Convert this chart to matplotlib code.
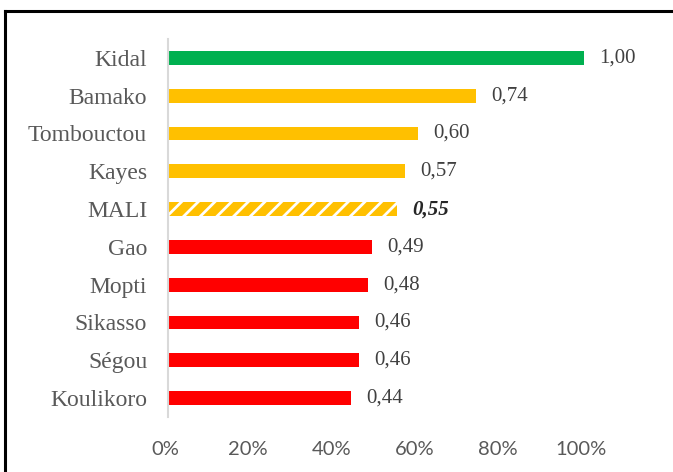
import matplotlib.pyplot as plt
import matplotlib.transforms as mtransforms
from matplotlib.lines import Line2D

# Data (top to bottom)
regions = ["Kidal", "Bamako", "Tombouctou", "Kayes", "MALI",
           "Gao", "Mopti", "Sikasso", "Ségou", "Koulikoro"]
values = [1.00, 0.74, 0.60, 0.57, 0.55, 0.49, 0.48, 0.46, 0.46, 0.44]
value_labels = ["1,00", "0,74", "0,60", "0,57", "0,55",
                "0,49", "0,48", "0,46", "0,46", "0,44"]
colors = ["#00B050", "#FFC000", "#FFC000", "#FFC000", "#FFC000",
          "#FF0000", "#FF0000", "#FF0000", "#FF0000", "#FF0000"]
ticks = [0, 0.2, 0.4, 0.6, 0.8, 1.0]
tick_labels = ["0%", "20%", "40%", "60%", "80%", "100%"]

plt.rcParams['hatch.linewidth'] = 2.0

fig = plt.figure(figsize=(6.73, 4.72), dpi=100)
ax = fig.add_axes([168 / 673, 1 - 417 / 472, (584 - 168) / 673, (417 - 39) / 472])

ypos = list(range(len(regions)))[::-1]
for y, v, c, name in zip(ypos, values, colors, regions):
    if name == "MALI":
        ax.barh(y, v, height=0.37, color=c, edgecolor="white", hatch="//", linewidth=0)
    else:
        ax.barh(y, v, height=0.37, color=c, linewidth=0)

for y, v, lab, name in zip(ypos, values, value_labels, regions):
    bold = name == "MALI"
    ax.annotate(lab, (v, y), xytext=(11, 0), textcoords="offset points",
                va="center", ha="left", family="Liberation Serif", fontsize=15,
                color="#262626" if bold else "#404040",
                fontweight="bold" if bold else "normal",
                fontstyle="italic" if bold else "normal")

ax.set_xlim(0, 1.0)
ax.set_ylim(-0.5, len(regions) - 0.5)
ax.set_yticks(ypos)
ax.set_yticklabels(regions)
ax.set_xticks(ticks)
ax.set_xticklabels(tick_labels)
ax.tick_params(axis="y", length=0, pad=15)
ax.tick_params(axis="x", length=0, pad=17)
for t in ax.get_yticklabels():
    t.set_fontfamily("Liberation Serif")
    t.set_fontsize(17)
    t.set_color("#595959")
shift = mtransforms.ScaledTranslation(-3 / 100, 0, fig.dpi_scale_trans)
for t in ax.get_xticklabels():
    t.set_fontfamily("Lato")
    t.set_fontsize(14.5)
    t.set_color("#595959")
    t.set_transform(t.get_transform() + shift)

for side in ["top", "right", "bottom"]:
    ax.spines[side].set_visible(False)
ax.spines["left"].set_color("#D9D9D9")
ax.spines["left"].set_linewidth(1.5)

# outer frame (top and left edges visible)
fig.add_artist(Line2D([5 / 673, 1.0], [1 - 10.5 / 472, 1 - 10.5 / 472],
                      color="black", linewidth=2.2, transform=fig.transFigure))
fig.add_artist(Line2D([5 / 673, 5 / 673], [0, 1 - 10.5 / 472],
                      color="black", linewidth=2.2, transform=fig.transFigure))

fig.savefig("out.png", dpi=100)
